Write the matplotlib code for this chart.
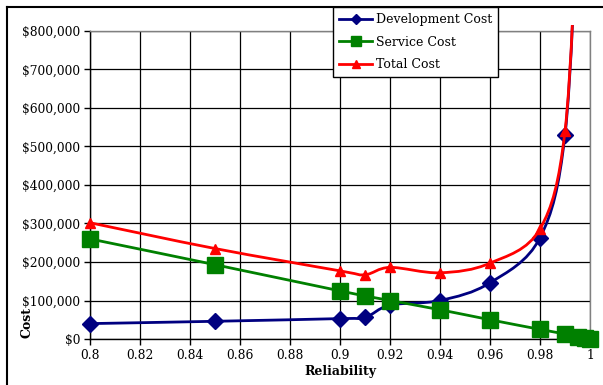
import numpy as np
import matplotlib
matplotlib.use("Agg")
import matplotlib.pyplot as plt
from matplotlib.path import Path
from matplotlib.patches import PathPatch, Rectangle
from matplotlib.lines import Line2D

# ---- data ----
dev_x = [0.80, 0.85, 0.90, 0.91, 0.92, 0.94, 0.96, 0.98, 0.99, 0.995]
dev_y = [40000, 46000, 53000, 56000, 88000, 100000, 146000, 263000, 530000, 1100000]

svc_x = [0.80, 0.85, 0.90, 0.91, 0.92, 0.94, 0.96, 0.98, 0.99, 0.995, 0.998, 1.0]
svc_y = [260000, 193000, 125000, 112000, 100000, 76000, 50000, 25000, 13000, 6000, 3000, 0]

tot_x = [0.80, 0.85, 0.90, 0.91, 0.92, 0.94, 0.96, 0.98, 0.99, 0.995]
tot_y = [302000, 235000, 177000, 167000, 186000, 172000, 197000, 286000, 540000, 1106000]

x_ticks = [0.8, 0.82, 0.84, 0.86, 0.88, 0.9, 0.92, 0.94, 0.96, 0.98, 1.0]
x_tick_labels = ["0.8", "0.82", "0.84", "0.86", "0.88", "0.9", "0.92", "0.94", "0.96", "0.98", "1"]
y_ticks = [0, 100000, 200000, 300000, 400000, 500000, 600000, 700000, 800000]
y_tick_labels = ["$0", "$100,000", "$200,000", "$300,000", "$400,000",
                 "$500,000", "$600,000", "$700,000", "$800,000"]

series_names = ["Development Cost", "Service Cost", "Total Cost"]

FONT = "DejaVu Serif"
W, H = 603, 385
fig = plt.figure(figsize=(W / 100, H / 100), dpi=100)
ax = fig.add_axes([90 / W, 1 - 339 / H, 500 / W, 308 / H])

ax.set_xlim(0.8, 1.0)
ax.set_ylim(0, 800000)
ax.set_xticks(x_ticks)
ax.set_xticklabels(x_tick_labels, fontfamily=FONT, fontsize=8.8)
ax.set_yticks(y_ticks)
ax.set_yticklabels(y_tick_labels, fontfamily=FONT, fontsize=8.8)
ax.tick_params(direction="out", length=4, width=1, color="black", pad=3)
ax.grid(True, color="black", linewidth=0.9)
ax.set_axisbelow(True)
for s in ["left", "bottom"]:
    ax.spines[s].set_color("black")
    ax.spines[s].set_linewidth(1.0)
for s in ["right", "top"]:
    ax.spines[s].set_color("#808080")
    ax.spines[s].set_linewidth(1.0)

clip = Rectangle((-0.05, -0.05), 1.1, 1.05 + 6 / 308, transform=ax.transAxes)


def smooth_path(xs, ys):
    p = np.column_stack([xs, ys]).astype(float)
    n = len(p)
    verts = [p[0]]
    codes = [Path.MOVETO]
    for i in range(n - 1):
        p0 = p[i - 1] if i > 0 else p[i]
        p1 = p[i]
        p2 = p[i + 1]
        p3 = p[i + 2] if i + 2 < n else p[i + 1]
        c1 = p1 + (p2 - p0) / 6.0
        c2 = p2 - (p3 - p1) / 6.0
        verts += [c1, c2, p2]
        codes += [Path.CURVE4] * 3
    return Path(verts, codes)


def draw(xs, ys, color, marker, ms, z):
    patch = PathPatch(smooth_path(xs, ys), transform=ax.transData, fill=False,
                      edgecolor=color, linewidth=2.0, zorder=z)
    ax.add_patch(patch)
    patch.set_clip_path(clip)
    ln, = ax.plot(xs, ys, linestyle="none", marker=marker, markersize=ms,
                  color=color, zorder=z + 0.5)
    ln.set_clip_path(clip)


draw(dev_x, dev_y, "#000080", "D", 8.5, 3)
draw(svc_x, svc_y, "#008000", "s", 11.5, 4)
draw(tot_x, tot_y, "#FF0000", "^", 7.5, 5)

handles = [
    Line2D([], [], color="#000080", lw=2, marker="D", ms=5),
    Line2D([], [], color="#008000", lw=2, marker="s", ms=6.5),
    Line2D([], [], color="#FF0000", lw=2, marker="^", ms=6),
]
leg = fig.legend(handles, series_names, loc="upper left",
                 bbox_to_anchor=(333 / W, 1 - 7 / H), bbox_transform=fig.transFigure,
                 prop={"family": FONT, "size": 9}, frameon=True, fancybox=False,
                 edgecolor="black", framealpha=1, handlelength=2.6, handletextpad=0.3,
                 labelspacing=0.75, borderpad=0.5, borderaxespad=0)
leg.get_frame().set_linewidth(1.0)
leg.set_zorder(10)

ax.set_xlabel("Reliability", fontfamily=FONT, fontweight="bold", fontsize=9, labelpad=2)
fig.text(27 / W, 1 - 322 / H, "Cost", rotation=90, ha="center", va="center",
         fontfamily=FONT, fontweight="bold", fontsize=9)

# outer border (left and top only)
fig.add_artist(Line2D([7 / W, 7 / W], [0, 1 - 7 / H], transform=fig.transFigure,
                      color="black", lw=1.5))
fig.add_artist(Line2D([7 / W, 1], [1 - 7 / H, 1 - 7 / H], transform=fig.transFigure,
                      color="black", lw=1.5))

fig.savefig("out.png", dpi=100)
